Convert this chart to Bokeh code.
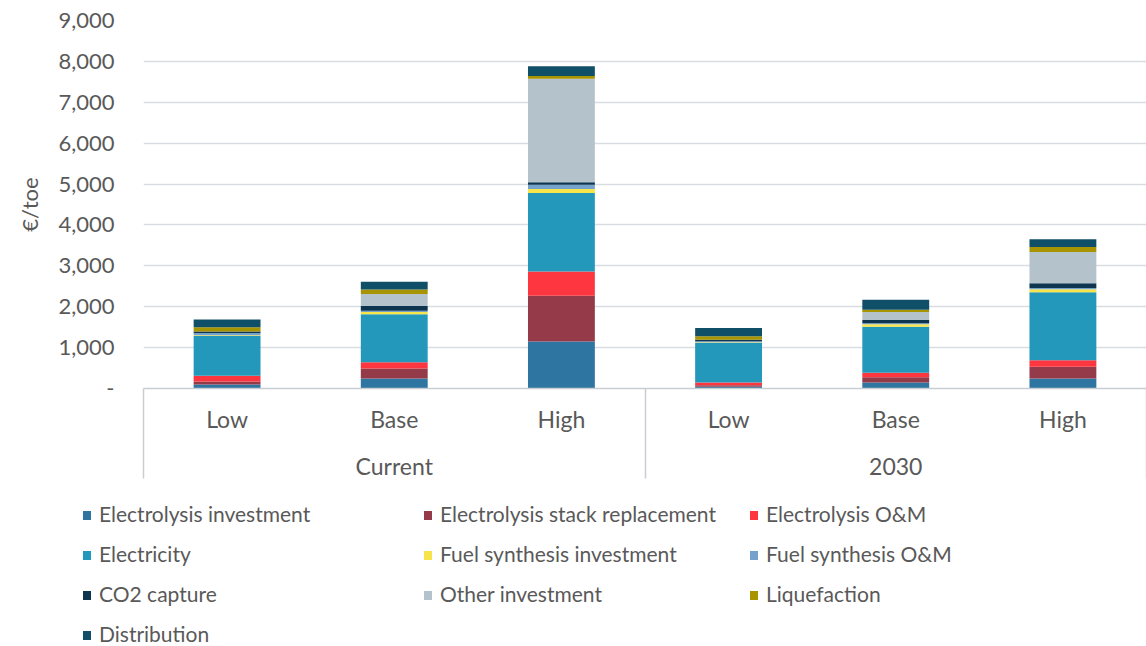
from bokeh.plotting import figure
from bokeh.layouts import column
from bokeh.models import (Range1d, FixedTicker, SingleIntervalTicker, NumeralTickFormatter,
                          LinearAxis, ColumnDataSource, Div)
from bokeh.embed import file_html
from bokeh.resources import INLINE

# ---- data ----
groups = ["Current", "Current", "Current", "2030", "2030", "2030"]
scenarios = ["Low", "Base", "High", "Low", "Base", "High"]
group_labels = ["Current", "2030"]

components = ["Electrolysis investment", "Electrolysis stack replacement", "Electrolysis O&M",
              "Electricity", "Fuel synthesis investment", "Fuel synthesis O&M",
              "CO2 capture", "Other investment", "Liquefaction", "Distribution"]

electrolysis_investment = [100, 245, 1150, 40, 148, 246]
stack_replacement = [70, 245, 1118, 40, 130, 287]
electrolysis_om = [140, 155, 596, 65, 107, 156]
electricity = [975, 1170, 1918, 975, 1123, 1664]
fuel_synthesis_investment = [20, 55, 100, 10, 65, 74]
fuel_synthesis_om = [50, 30, 100, 25, 25, 33]
co2_capture = [40, 120, 65, 40, 80, 115]
other_investment = [0, 290, 2530, 0, 190, 762]
liquefaction = [100, 110, 65, 80, 57, 123]
distribution = [190, 190, 237, 205, 245, 190]

colors = ["#2F75A1", "#943A48", "#FD363F", "#2398BB", "#F5E54B",
          "#74A2CD", "#0D3550", "#B4C3CB", "#A89400", "#0F5068"]

series = [electrolysis_investment, stack_replacement, electrolysis_om, electricity,
          fuel_synthesis_investment, fuel_synthesis_om, co2_capture, other_investment,
          liquefaction, distribution]

x_pos = [i + 1 for i in range(len(scenarios))]
data = {"x": x_pos}
keys = []
for i, s in enumerate(series):
    k = "s%d" % i
    keys.append(k)
    data[k] = s
source = ColumnDataSource(data)

FONT = "Lato"
TXT = "#595959"
W = 1146
H_MAIN = 485
H_LEG = 161

p = figure(width=W, height=H_MAIN, output_backend="svg", toolbar_location=None,
           x_range=Range1d(0.5, 6.5), y_range=Range1d(0, 9000),
           min_border_left=143, min_border_right=0, min_border_top=20, min_border_bottom=97,
           x_axis_location=None, y_axis_location=None)
p.outline_line_color = None
p.xgrid.grid_line_color = None
p.background_fill_color = "white"
p.border_fill_color = "white"

renderers = p.vbar_stack(keys, x="x", width=0.4, color=colors, source=source, line_width=0)

# y axis
yax = LinearAxis(ticker=SingleIntervalTicker(interval=1000, num_minor_ticks=0),
                 formatter=NumeralTickFormatter(format="0,0"))
yax.major_label_overrides = {0: "-"}
yax.axis_line_color = None
yax.major_tick_line_color = None
yax.major_tick_out = 0
yax.minor_tick_line_color = None
yax.major_label_standoff = 29
yax.major_label_text_font = FONT
yax.major_label_text_font_size = "22px"
yax.major_label_text_color = TXT
yax.axis_label = "€/toe"
yax.axis_label_text_font = FONT
yax.axis_label_text_font_size = "22px"
yax.axis_label_text_font_style = "normal"
yax.axis_label_text_color = TXT
yax.axis_label_standoff = 12
p.add_layout(yax, "left")

p.ygrid.grid_line_color = "#D9DDE2"
p.ygrid.grid_line_width = 1.5
p.ygrid.ticker = yax.ticker

# x axis: scenario labels + separators
sep = [0.5, 3.5, 6.5]
xax = LinearAxis(ticker=FixedTicker(ticks=x_pos, minor_ticks=sep))
xax.major_label_overrides = {x: s for x, s in zip(x_pos, scenarios)}
xax.axis_line_color = "#C8CDD2"
xax.axis_line_width = 1.5
xax.major_tick_line_color = None
xax.major_tick_out = 0
xax.minor_tick_in = 0
xax.minor_tick_out = 90
xax.minor_tick_line_color = "#C8CDD2"
xax.minor_tick_line_width = 1.5
xax.major_label_standoff = -74
xax.major_label_text_font = FONT
xax.major_label_text_font_size = "23px"
xax.major_label_text_color = TXT
p.add_layout(xax, "below")

# x axis: group labels
group_pos = [2, 5]
gax = LinearAxis(ticker=FixedTicker(ticks=group_pos))
gax.major_label_overrides = {x: s for x, s in zip(group_pos, group_labels)}
gax.axis_line_color = None
gax.major_tick_line_color = None
gax.major_tick_out = 0
gax.minor_tick_line_color = None
gax.major_label_standoff = 16
gax.major_label_text_font = FONT
gax.major_label_text_font_size = "23px"
gax.major_label_text_color = TXT
p.add_layout(gax, "below")

# ---- legend (three columns, filled row by row) ----
ncols = 3
col_left = [83, 424, 750]
row_top0 = 17
row_pitch = 40
parts = ['<div style="position:relative;width:%dpx;height:%dpx;font-family:Lato;'
         'font-size:21px;color:%s;">' % (W, H_LEG, TXT)]
for i, (name, c) in enumerate(zip(components, colors)):
    r, cidx = divmod(i, ncols)
    parts.append(
        '<div style="position:absolute;left:%dpx;top:%dpx;height:24px;line-height:24px;'
        'white-space:nowrap;"><span style="display:inline-block;width:8px;height:9px;'
        'background:%s;margin-right:8px;vertical-align:middle;position:relative;top:-1px;">'
        '</span>%s</div>' % (col_left[cidx], row_top0 + r * row_pitch, c,
                             name.replace("&", "&amp;")))
parts.append('</div>')
legend_div = Div(text="".join(parts), width=W, height=H_LEG, margin=0)

open("out.html", "w").write(file_html(column(p, legend_div, spacing=0), INLINE))
